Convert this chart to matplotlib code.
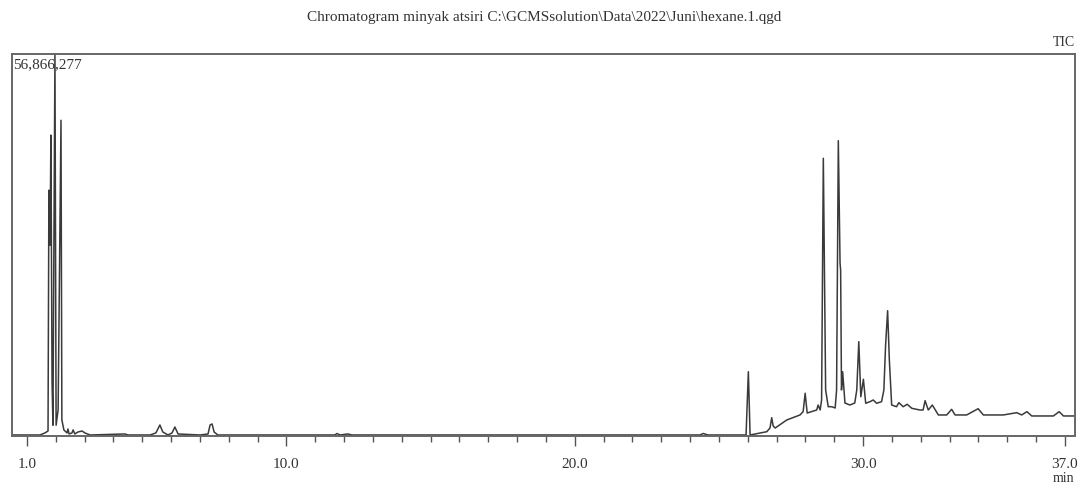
import numpy as np
import matplotlib.pyplot as plt
from matplotlib.ticker import FixedLocator, MultipleLocator

plt.rcParams['font.family'] = ['Liberation Serif', 'DejaVu Serif']

# retention time (min) and TIC (millions of counts)
rt = [0.48, 1.45, 1.62, 1.73, 1.76, 1.80, 1.83, 1.87, 1.90, 1.97, 2.01,
      2.08, 2.18, 2.21, 2.28, 2.39, 2.42, 2.46, 2.56, 2.60, 2.66, 2.77,
      2.91, 3.01, 3.19, 4.40, 4.50, 5.27, 5.47, 5.61, 5.71, 5.89, 6.03,
      6.13, 6.24, 7.00, 7.28, 7.35, 7.42, 7.49, 7.62, 11.68, 11.75, 11.86,
      12.13, 12.27, 24.34, 24.45, 24.62, 25.94,
      26.02, 26.08, 26.66, 26.77, 26.83, 26.88, 26.95, 27.35, 27.81, 27.92,
      27.99, 28.06, 28.39, 28.44, 28.51, 28.56, 28.62, 28.70, 28.79, 28.91,
      29.03, 29.08, 29.14, 29.20, 29.22, 29.25, 29.29, 29.37, 29.54, 29.71,
      29.78, 29.85, 29.92, 30.01, 30.09, 30.24, 30.35, 30.47, 30.64, 30.72,
      30.78, 30.85, 30.91, 30.99, 31.16, 31.24, 31.39, 31.53, 31.69, 31.97,
      32.08, 32.15, 32.20, 32.26, 32.40, 32.61, 32.90, 33.07, 33.19, 33.59,
      33.99, 34.17, 34.86, 35.33, 35.50, 35.68, 35.85, 36.60, 36.80, 36.95,
      37.35]
tic = [0.15, 0.15, 0.45, 0.74, 36.6, 28.4, 44.8, 8.0, 1.6, 56.87, 1.6,
       3.9, 47.0, 2.4, 0.9, 0.45, 1.04, 0.3, 0.45, 0.9, 0.3, 0.6,
       0.74, 0.45, 0.15, 0.3, 0.15, 0.15, 0.45, 1.64, 0.6, 0.15, 0.45,
       1.34, 0.3, 0.15, 0.3, 1.64, 1.79, 0.6, 0.15, 0.15, 0.37, 0.15,
       0.3, 0.15, 0.15, 0.37, 0.15, 0.15,
       9.57, 0.15, 0.64, 1.19, 2.72, 1.49, 1.19, 2.38, 3.13, 3.62,
       6.36, 3.42, 3.87, 4.61, 3.87, 5.36, 41.34, 6.85, 4.36, 4.36,
       4.17, 6.85, 43.96, 25.75, 24.7, 6.85, 9.57, 4.91, 4.61, 4.91,
       6.85, 14.04, 5.85, 8.44, 4.87, 5.11, 5.36, 4.87, 5.11, 6.85,
       13.55, 18.65, 11.31, 4.61, 4.36, 4.96, 4.36, 4.72, 4.12, 3.87,
       3.87, 5.26, 4.61, 3.87, 4.61, 3.13, 3.13, 3.97, 3.13, 3.13,
       4.06, 3.13, 3.13, 3.47, 3.13, 3.62, 2.98, 2.98, 3.62, 2.98,
       2.98]

major_ticks = [1.0, 10.0, 20.0, 30.0, 37.0]
tick_labels = ['1.0', '10.0', '20.0', '30.0', '37.0']
max_count = 56866277
title = r'Chromatogram minyak atsiri C:\GCMSsolution\Data\2022\Juni\hexane.1.qgd'

fig = plt.figure(figsize=(10.8, 4.86), dpi=100)
ax = fig.add_axes([0.0111, 0.1029, 0.9843, 0.786])

ax.plot(rt, np.array(tic) * 1e6, color='#3a3a3a', lw=1.1)

ax.set_xlim(0.48, 37.35)
ax.set_ylim(0, max_count)

ax.xaxis.set_major_locator(FixedLocator(major_ticks))
ax.set_xticklabels(tick_labels, fontsize=11, color='#333333')
ax.xaxis.set_minor_locator(MultipleLocator(1.0))
ax.tick_params(axis='x', which='major', direction='out', length=7,
               width=1, color='#555555', pad=9)
ax.tick_params(axis='x', which='minor', direction='out', length=4,
               width=1, color='#555555')
ax.set_yticks([])

for s in ax.spines.values():
    s.set_color('#666666')
    s.set_linewidth(1.4)

fig.text(0.504, 0.963, title, ha='center', va='center', fontsize=11,
         color='#333333')
fig.text(0.995, 0.912, 'TIC', ha='right', va='center', fontsize=10,
         color='#333333')
ax.text(0.001, 0.99, format(max_count, ','), transform=ax.transAxes,
        ha='left', va='top', fontsize=11, color='#333333')
fig.text(0.995, 0.016, 'min', ha='right', va='center', fontsize=10,
         color='#333333')

fig.savefig('out.png', dpi=100)
